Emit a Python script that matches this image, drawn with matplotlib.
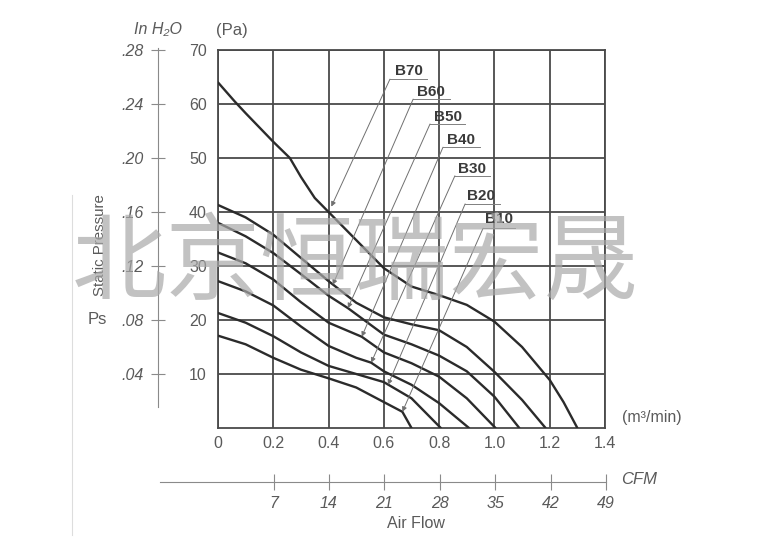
import matplotlib
matplotlib.use('Agg')
import matplotlib.pyplot as plt

#####################  data  ####################
# air flow in m3/min, static pressure in Pa
b70_x = [0, 0.06, 0.1, 0.2, 0.26, 0.3, 0.35, 0.4, 0.5, 0.6, 0.7, 0.8, 0.9, 1.0, 1.1, 1.2, 1.25, 1.3]
b70_y = [64, 60.5, 58.3, 53, 50, 46.5, 42.6, 40, 34.8, 29.6, 26.2, 24.6, 22.8, 19.7, 15, 8.9, 4.8, 0]
b60_x = [0, 0.1, 0.2, 0.3, 0.4, 0.5, 0.6, 0.7, 0.8, 0.9, 1.0, 1.1, 1.185]
b60_y = [41.3, 39, 35.8, 31.5, 27.2, 23.2, 20.5, 19.2, 18.1, 15, 10.4, 5.2, 0]
b50_x = [0, 0.1, 0.2, 0.3, 0.4, 0.47, 0.6, 0.7, 0.8, 0.9, 1.0, 1.09]
b50_y = [38, 35.5, 32.4, 28.5, 24.5, 22.2, 17.3, 15.5, 13.4, 10.5, 5.8, 0]
b40_x = [0, 0.1, 0.2, 0.3, 0.4, 0.52, 0.6, 0.7, 0.8, 0.9, 1.004]
b40_y = [32.5, 30.5, 27.5, 23.3, 19.5, 16.9, 14, 12, 9.5, 5.5, 0]
b30_x = [0, 0.1, 0.2, 0.3, 0.4, 0.5, 0.554, 0.6, 0.7, 0.8, 0.908]
b30_y = [27.2, 25.3, 22.7, 18.8, 15.2, 13, 12.1, 10.5, 8, 4.6, 0]
b20_x = [0, 0.1, 0.2, 0.3, 0.4, 0.5, 0.6, 0.7, 0.806]
b20_y = [21.3, 19.5, 17, 14, 11.5, 10, 8.5, 5.5, 0]
b10_x = [0, 0.1, 0.2, 0.3, 0.4, 0.5, 0.6, 0.667, 0.70]
b10_y = [17.1, 15.5, 13, 10.8, 9.2, 7.5, 4.8, 3, 0]

models = ['B70', 'B60', 'B50', 'B40', 'B30', 'B20', 'B10']
# label centre, leader start (left end of underline) and leader end on the curve
label_pos = [(0.691, 66.1), (0.771, 62.2), (0.832, 57.6), (0.879, 53.3), (0.919, 48.0), (0.952, 43.0), (1.017, 38.7)]
leader_start = [(0.622, 64.6), (0.706, 60.9), (0.767, 56.3), (0.814, 52.0), (0.857, 46.7), (0.894, 41.5), (0.959, 37.0)]
leader_end = [(0.41, 41.0), (0.415, 26.5), (0.47, 22.2), (0.52, 16.9), (0.554, 12.1), (0.615, 8.0), (0.667, 3.0)]
underline_end = [0.756, 0.839, 0.894, 0.948, 0.984, 1.02, 1.075]

pa_ticks = [10, 20, 30, 40, 50, 60, 70]
flow_ticks = [0, 0.2, 0.4, 0.6, 0.8, 1.0, 1.2, 1.4]
flow_labels = ['0', '0.2', '0.4', '0.6', '0.8', '1.0', '1.2', '1.4']
inh2o_ticks = [0.04, 0.08, 0.12, 0.16, 0.20, 0.24, 0.28]
inh2o_labels = ['.04', '.08', '.12', '.16', '.20', '.24', '.28']
cfm_ticks = [7, 14, 21, 28, 35, 42, 49]

plt.rcParams['font.family'] = ['Liberation Sans', 'DejaVu Sans']
GRAY = '#5a5a5a'
FS = 11.5
W, H = 760, 553

fig = plt.figure(figsize=(7.6, 5.53), dpi=100)

def box(x0, y0, x1, y1):
    # pixel box (top-left origin) -> figure fraction rect
    return [x0 / W, 1 - y1 / H, (x1 - x0) / W, (y1 - y0) / H]

# main chart
ax = fig.add_axes(box(218, 50, 605, 428))
curves = [(b70_x, b70_y), (b60_x, b60_y), (b50_x, b50_y), (b40_x, b40_y),
          (b30_x, b30_y), (b20_x, b20_y), (b10_x, b10_y)]
for cx, cy in curves:
    ax.plot(cx, cy, color='#2b2b2b', lw=1.7, solid_capstyle='round', zorder=3)

ax.set_xlim(0, 1.4)
ax.set_ylim(0, 70)
ax.set_xticks(flow_ticks)
ax.set_xticklabels(flow_labels)
ax.set_yticks(pa_ticks)
ax.tick_params(length=0, labelsize=FS, labelcolor=GRAY)
ax.tick_params(axis='y', pad=8)
ax.tick_params(axis='x', pad=6)
ax.grid(True, color='#4a4a4a', lw=1.3)
for s in ax.spines.values():
    s.set_color('#4a4a4a')
    s.set_linewidth(1.3)

for name, lp, ls, le, ue in zip(models, label_pos, leader_start, leader_end, underline_end):
    ax.text(lp[0], lp[1], name, ha='center', va='center', fontsize=11,
            fontweight='bold', color='#3a3a3a', zorder=5)
    ax.plot([ls[0], ue], [ls[1], ls[1]], color='#808080', lw=0.7, zorder=4)
    ax.annotate('', xy=le, xytext=ls,
                arrowprops=dict(arrowstyle='-|>', color='#707070', lw=0.7,
                                mutation_scale=7, shrinkA=0, shrinkB=0), zorder=4)

ax.text(1.462, 2.0, '(m³/min)', ha='left', va='center', fontsize=FS, color=GRAY, clip_on=False)
ax.text(0.051, 73.7, '(Pa)', ha='center', va='center', fontsize=12, color=GRAY, clip_on=False)

# inH2O axis on the left
ax_in = fig.add_axes(box(158, 48, 159, 407))
ax_in.set_ylim((428 - 407) * 0.28 / 378, (428 - 48) * 0.28 / 378)
ax_in.set_yticks(inh2o_ticks)
ax_in.set_yticklabels(inh2o_labels, style='italic')
ax_in.set_xticks([])
for k in ['top', 'bottom', 'right']:
    ax_in.spines[k].set_visible(False)
ax_in.spines['left'].set_color('#8a8a8a')
ax_in.tick_params(axis='y', direction='inout', length=10, color='#8a8a8a',
                  labelsize=FS, labelcolor=GRAY, pad=5)
ax_in.patch.set_visible(False)
fig.text(158 / W, 1 - 30 / H, 'In H\u2082O', ha='center', va='center', fontsize=FS,
         style='italic', color=GRAY)

# CFM axis below
ax_cfm = fig.add_axes(box(160, 481, 606, 482))
ax_cfm.set_xlim(-58 / 387 * 49, 49)
ax_cfm.set_xticks(cfm_ticks)
ax_cfm.set_xticklabels([str(c) for c in cfm_ticks], style='italic')
ax_cfm.set_yticks([])
for k in ['top', 'left', 'right']:
    ax_cfm.spines[k].set_visible(False)
ax_cfm.spines['bottom'].set_color('#8a8a8a')
ax_cfm.tick_params(axis='x', direction='inout', length=12, color='#8a8a8a',
                   labelsize=FS, labelcolor=GRAY, pad=4)
ax_cfm.patch.set_visible(False)
fig.text(639 / W, 1 - 480 / H, 'CFM', ha='center', va='center', fontsize=12,
         style='italic', color=GRAY)
fig.text(416 / W, 1 - 524 / H, 'Air Flow', ha='center', va='center', fontsize=FS, color=GRAY)

# y axis titles
fig.text(100 / W, 1 - 245 / H, 'Static Pressure', rotation=90, ha='center', va='center',
         fontsize=10.8, color=GRAY)
fig.text(97 / W, 1 - 320 / H, 'Ps', ha='center', va='center', fontsize=12, color=GRAY)

# faint scan edge on the left
fig.add_artist(plt.Line2D([72 / W, 72 / W], [1 - 535 / H, 1 - 195 / H], color='#dddddd', lw=0.8))

# watermark
fig.text(355 / W, 1 - 265 / H, '北京恒瑞宏晟', ha='center', va='center', fontsize=68,
         color='#a8a8a8', alpha=0.7, family=['Noto Sans CJK SC', 'DejaVu Sans'], zorder=10)

fig.savefig('out.png', dpi=100)
